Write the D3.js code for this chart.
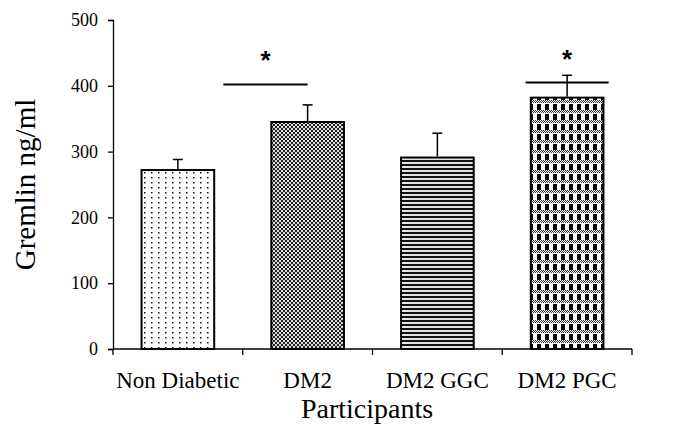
<!DOCTYPE html>
<html>
<head>
<meta charset="utf-8">
<script src="https://cdn.jsdelivr.net/npm/d3@7"></script>
<style>
  body { margin: 0; background: #fff; }
  svg { display: block; }
</style>
</head>
<body>
<svg id="chart" width="699" height="430"></svg>
<script>
// data
const categories = ['Non Diabetic', 'DM2', 'DM2 GGC', 'DM2 PGC'];
const means      = [272, 345, 291, 382];
const errors     = [16, 26, 37, 34];
const yTicks     = [0, 100, 200, 300, 400, 500];
const patterns   = ['dots', 'fineCheck', 'stripes', 'bigCheck'];
// significance lines: start category + band fraction, end category + band fraction, level
const sigFrom  = ['Non Diabetic', 'DM2 GGC'];
const sigFromF = [0.85, 1.18];
const sigTo    = ['DM2', 'DM2 PGC'];
const sigToF   = [0.5, 0.82];
const sigLevel = [402, 405];

const svg = d3.select('#chart');
const margin = {top: 20, right: 67, bottom: 81, left: 113};
const width  = 699 - margin.left - margin.right;
const height = 430 - margin.top - margin.bottom;

const defs = svg.append('defs');

// sparse dots
let p = defs.append('pattern').attr('id', 'dots').attr('patternUnits', 'userSpaceOnUse')
  .attr('width', 7).attr('height', 5);
p.append('rect').attr('width', 7).attr('height', 5).attr('fill', '#fff');
p.append('rect').attr('x', 3).attr('y', 2).attr('width', 1.5).attr('height', 1.5).attr('fill', '#111');

// fine checker
p = defs.append('pattern').attr('id', 'fineCheck').attr('patternUnits', 'userSpaceOnUse')
  .attr('width', 4).attr('height', 4);
p.append('rect').attr('width', 4).attr('height', 4).attr('fill', '#ddd');
p.append('rect').attr('width', 2).attr('height', 2).attr('fill', '#222');
p.append('rect').attr('x', 2).attr('y', 2).attr('width', 2).attr('height', 2).attr('fill', '#222');

// horizontal stripes
p = defs.append('pattern').attr('id', 'stripes').attr('patternUnits', 'userSpaceOnUse')
  .attr('width', 4).attr('height', 4);
p.append('rect').attr('width', 4).attr('height', 4).attr('fill', '#e4e4e4');
p.append('rect').attr('width', 4).attr('height', 2).attr('fill', '#111');

// big checker with fine-checked rows
p = defs.append('pattern').attr('id', 'bigCheck').attr('patternUnits', 'userSpaceOnUse')
  .attr('width', 8).attr('height', 10);
p.append('rect').attr('width', 8).attr('height', 10).attr('fill', '#fff');
p.append('rect').attr('x', 0).attr('y', 4).attr('width', 4).attr('height', 6).attr('fill', '#000');
for (let i = 0; i < 8; i++) {
  for (let j = 0; j < 3; j++) {
    if ((i + j) % 2 === 0)
      p.append('rect').attr('x', i).attr('y', j).attr('width', 1).attr('height', 1).attr('fill', '#333');
  }
}

const g = svg.append('g').attr('transform', `translate(${margin.left},${margin.top})`);

const x = d3.scaleBand().domain(categories).range([0, width]).paddingInner(0).paddingOuter(0);
const y = d3.scaleLinear().domain([0, 500]).range([height, 0]);

const barW = x.bandwidth() * 0.56;
const font = '"Liberation Serif", "Times New Roman", serif';

// bars
g.selectAll('rect.bar')
  .data(categories)
  .join('rect')
  .attr('class', 'bar')
  .attr('x', d => x(d) + (x.bandwidth() - barW) / 2)
  .attr('y', (d, i) => y(means[i]))
  .attr('width', barW)
  .attr('height', (d, i) => y(0) - y(means[i]))
  .attr('fill', (d, i) => `url(#${patterns[i]})`)
  .attr('stroke', '#000')
  .attr('stroke-width', 2);

// error bars (upper only)
const eb = g.selectAll('g.err').data(categories).join('g').attr('class', 'err');
eb.append('line')
  .attr('x1', d => x(d) + x.bandwidth() / 2)
  .attr('x2', d => x(d) + x.bandwidth() / 2)
  .attr('y1', (d, i) => y(means[i]) - 1)
  .attr('y2', (d, i) => y(means[i] + errors[i]))
  .attr('stroke', '#000').attr('stroke-width', 1.5);
eb.append('line')
  .attr('x1', d => x(d) + x.bandwidth() / 2 - 5)
  .attr('x2', d => x(d) + x.bandwidth() / 2 + 5)
  .attr('y1', (d, i) => y(means[i] + errors[i]))
  .attr('y2', (d, i) => y(means[i] + errors[i]))
  .attr('stroke', '#000').attr('stroke-width', 1.5);

// y axis
const yAxis = g.append('g')
  .call(d3.axisLeft(y).tickValues(yTicks).tickSize(5).tickPadding(10));
yAxis.select('.domain').attr('stroke-width', 1.3);
yAxis.selectAll('.tick line').attr('stroke-width', 1.3);
yAxis.selectAll('.tick text').attr('font-family', font).attr('font-size', 18).attr('fill', '#000');

// x axis: ticks at band edges
const xAxis = g.append('g').attr('transform', `translate(0,${height})`);
xAxis.append('line').attr('x1', 0).attr('x2', width).attr('stroke', '#000').attr('stroke-width', 1.3);
xAxis.selectAll('line.tk')
  .data(categories.concat(['end']))
  .join('line')
  .attr('class', 'tk')
  .attr('x1', (d, i) => i * x.step())
  .attr('x2', (d, i) => i * x.step())
  .attr('y1', 0).attr('y2', 6)
  .attr('stroke', '#000').attr('stroke-width', 1.3);
xAxis.selectAll('text')
  .data(categories)
  .join('text')
  .attr('x', d => x(d) + x.bandwidth() / 2)
  .attr('y', 39)
  .attr('text-anchor', 'middle')
  .attr('font-family', font)
  .attr('font-size', 23)
  .text(d => d);

// axis titles
svg.append('text')
  .attr('x', 367)
  .attr('y', 418)
  .attr('text-anchor', 'middle')
  .attr('font-family', font)
  .attr('font-size', 28)
  .text('Participants');

svg.append('text')
  .attr('transform', `translate(35,${margin.top + height / 2}) rotate(-90)`)
  .attr('text-anchor', 'middle')
  .attr('font-family', font)
  .attr('font-size', 29)
  .text('Gremlin ng/ml');

// significance markers
sigFrom.forEach((c, i) => {
  const x1 = x(c) + x.bandwidth() * sigFromF[i];
  const x2 = x(sigTo[i]) + x.bandwidth() * sigToF[i];
  g.append('line')
    .attr('x1', x1).attr('x2', x2)
    .attr('y1', y(sigLevel[i])).attr('y2', y(sigLevel[i]))
    .attr('stroke', '#000').attr('stroke-width', 2);
  g.append('text')
    .attr('x', (x1 + x2) / 2)
    .attr('y', y(sigLevel[i]) - 15)
    .attr('text-anchor', 'middle')
    .attr('font-family', '"Liberation Sans", Arial, sans-serif')
    .attr('font-weight', 'bold')
    .attr('font-size', 26)
    .text('*');
});
</script>
</body>
</html>
